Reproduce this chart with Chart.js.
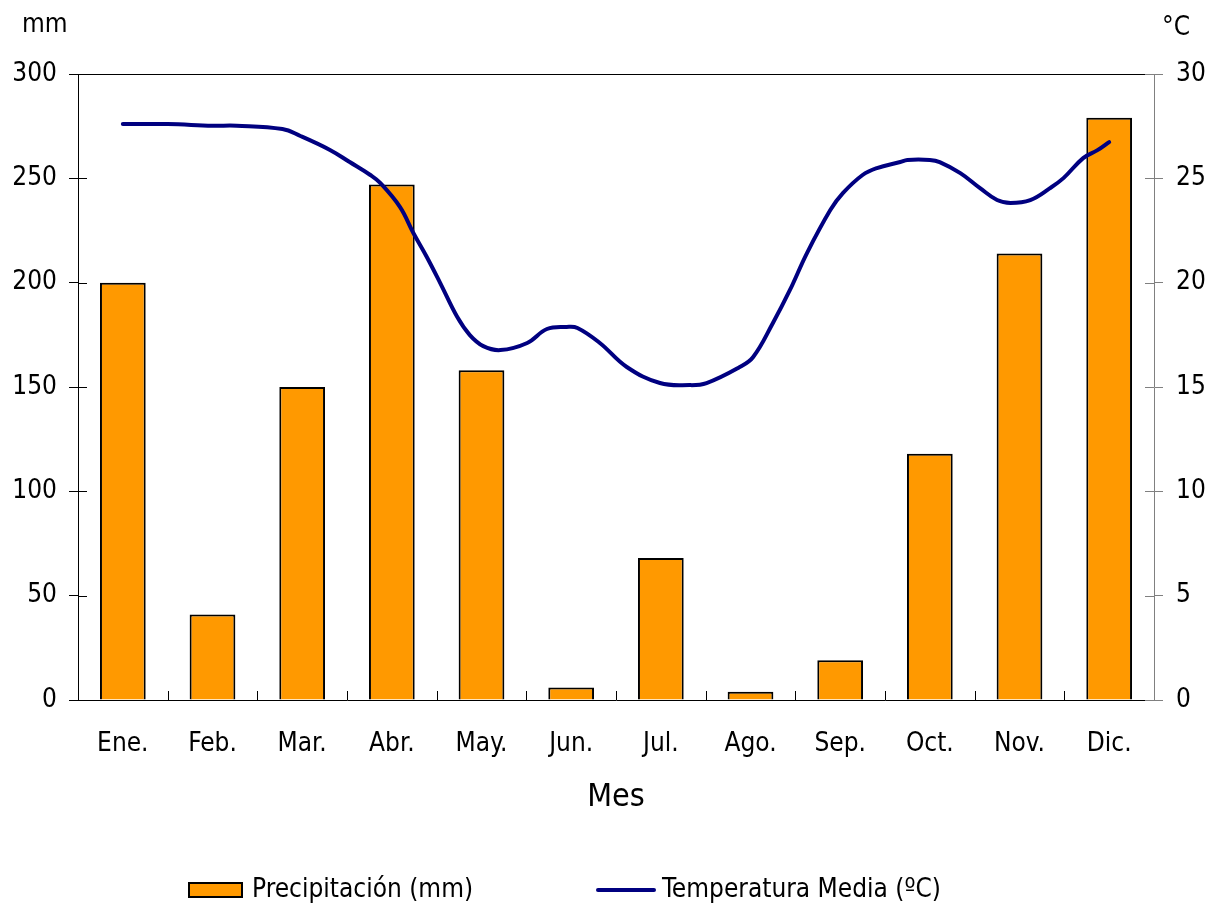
<!DOCTYPE html>
<html><head><meta charset="utf-8">
<script src="https://cdn.jsdelivr.net/npm/chart.js@4.4.0/dist/chart.umd.min.js"></script>
<style>html,body{margin:0;padding:0;background:#fff;overflow:hidden}#wrap{width:1209px;height:905px;position:relative}</style>
</head><body><div id="wrap"><canvas id="c" width="1209" height="905"></canvas></div>
<script>
const months = ['Ene.','Feb.','Mar.','Abr.','May.','Jun.','Jul.','Ago.','Sep.','Oct.','Nov.','Dic.'];
const precipitation = [200, 41, 150, 247, 158, 6, 68, 4, 19, 118, 214, 279];
// temperature trace: position in months (0 = Ene.) and value in ºC
const tempPos = [0.00,0.50,1.00,1.27,1.78,1.98,2.31,2.53,2.76,2.87,3.09,3.24,3.39,3.54,3.73,3.87,4.02,4.21,4.51,4.73,4.95,5.07,5.32,5.62,5.99,6.32,6.51,6.88,7.03,7.25,7.44,7.63,7.89,8.03,8.25,8.41,8.67,8.75,9.00,9.11,9.34,9.56,9.75,9.90,10.12,10.34,10.49,10.71,10.87,11.00];
const tempVals = [27.60,27.60,27.52,27.52,27.36,27.03,26.36,25.78,25.16,24.78,23.63,22.38,21.23,19.98,18.35,17.49,16.96,16.77,17.11,17.78,17.88,17.83,17.11,15.96,15.19,15.09,15.19,15.96,16.44,18.07,19.65,21.42,23.48,24.29,25.16,25.49,25.78,25.88,25.88,25.78,25.25,24.53,23.96,23.82,23.96,24.53,25.01,25.97,26.35,26.74];
const precipTicks = [0, 50, 100, 150, 200, 250, 300];
const tempTicks = [0, 5, 10, 15, 20, 25, 30];
const seriesNames = ['Precipitación (mm)', 'Temperatura Media (ºC)'];
const unitLeft = 'mm', unitRight = '°C', xTitle = 'Mes';

const FONT = "'DejaVu Sans Condensed', 'DejaVu Sans', sans-serif";
const ORANGE = '#FF9900', NAVY = '#000080';

const decor = {
  id: 'decor',
  afterDraw(chart) {
    const {ctx, chartArea: a, scales} = chart;
    ctx.save();
    ctx.lineWidth = 1;
    ctx.strokeStyle = '#000';
    ctx.beginPath(); ctx.moveTo(a.left, a.top + 0.5); ctx.lineTo(a.right, a.top + 0.5); ctx.stroke();
    scales.y.ticks.forEach(t => {
      const py = Math.round(scales.y.getPixelForValue(t.value)) + 0.5;
      ctx.beginPath(); ctx.moveTo(a.left, py); ctx.lineTo(a.left + 9, py); ctx.stroke();
    });
    ctx.strokeStyle = '#808080';
    scales.y2.ticks.forEach(t => {
      const py = Math.round(scales.y2.getPixelForValue(t.value)) + 0.5;
      ctx.beginPath(); ctx.moveTo(a.right - 9, py); ctx.lineTo(a.right, py); ctx.stroke();
    });
    ctx.strokeStyle = '#000';
    const xs = scales.x;
    const half = (xs.getPixelForValue(1) - xs.getPixelForValue(0)) / 2;
    for (let i = 1; i < months.length; i++) {
      const px = Math.round(xs.getPixelForValue(i) - half) + 0.5;
      ctx.beginPath(); ctx.moveTo(px, a.bottom); ctx.lineTo(px, a.bottom - 9); ctx.stroke();
    }
    ctx.fillStyle = '#000';
    ctx.font = '26px ' + FONT;
    ctx.textBaseline = 'middle';
    ctx.textAlign = 'left';
    ctx.fillText(unitLeft, 22, 25);
    ctx.fillText(unitRight, 1162, 28);
    // legend
    ctx.font = '26px ' + FONT;
    ctx.fillStyle = ORANGE;
    ctx.fillRect(188, 882, 55, 16);
    ctx.strokeStyle = '#000'; ctx.lineWidth = 2;
    ctx.strokeRect(189, 883, 53, 14);
    ctx.fillStyle = '#000';
    ctx.fillText(seriesNames[0], 252, 890);
    ctx.strokeStyle = NAVY; ctx.lineWidth = 4; ctx.lineCap = 'round';
    ctx.beginPath(); ctx.moveTo(598, 890); ctx.lineTo(654, 890); ctx.stroke();
    ctx.fillText(seriesNames[1], 662, 890);
    ctx.restore();
  }
};

new Chart(document.getElementById('c'), {
  type: 'bar',
  data: {
    labels: months,
    datasets: [
      {
        type: 'bar', label: seriesNames[0], xAxisID: 'x', yAxisID: 'y',
        data: precipitation, backgroundColor: ORANGE, borderColor: '#000', borderWidth: 2,
        barPercentage: 0.51, categoryPercentage: 1.0, grouped: false, order: 1
      },
      {
        type: 'line', label: seriesNames[1], xAxisID: 'xl', yAxisID: 'y2',
        data: tempPos.map((p, i) => ({x: p, y: tempVals[i]})),
        borderColor: NAVY, borderWidth: 4, pointRadius: 0, tension: 0.4,
        borderCapStyle: 'round', borderJoinStyle: 'round', fill: false, order: 0
      }
    ]
  },
  options: {
    responsive: false, animation: false, devicePixelRatio: 1,
    layout: {padding: {top: 74, left: 0, right: 0, bottom: 0}},
    plugins: {legend: {display: false}, tooltip: {enabled: false}},
    scales: {
      x: {
        type: 'category', position: 'bottom', offset: true,
        grid: {display: false, drawTicks: false, offset: true},
        border: {display: true, color: '#000', width: 1},
        ticks: {font: {family: FONT, size: 26}, color: '#000', padding: 29, maxRotation: 0, autoSkip: false},
        title: {display: true, text: xTitle, font: {family: FONT, size: 32}, color: '#000', padding: {top: 0, bottom: 88}},
        afterFit: s => { s.height = 205; }
      },
      xl: {type: 'linear', position: 'bottom', min: -0.5, max: 11.5, offset: false, display: false},
      y: {
        position: 'left', min: 0, max: 300,
        afterBuildTicks: s => { s.ticks = precipTicks.map(v => ({value: v})); },
        grid: {drawOnChartArea: false, drawTicks: true, tickLength: 9, color: '#000'},
        border: {display: true, color: '#000', width: 1},
        ticks: {font: {family: FONT, size: 26}, color: '#000', padding: 12},
        afterFit: s => { s.width = 78; }
      },
      y2: {
        position: 'right', min: 0, max: 30,
        afterBuildTicks: s => { s.ticks = tempTicks.map(v => ({value: v})); },
        grid: {drawOnChartArea: false, drawTicks: true, tickLength: 9, color: '#808080'},
        border: {display: true, color: '#808080', width: 1},
        ticks: {font: {family: FONT, size: 26}, color: '#000', padding: 13},
        afterFit: s => { s.width = 55; }
      }
    }
  },
  plugins: [decor]
});
</script></body></html>
